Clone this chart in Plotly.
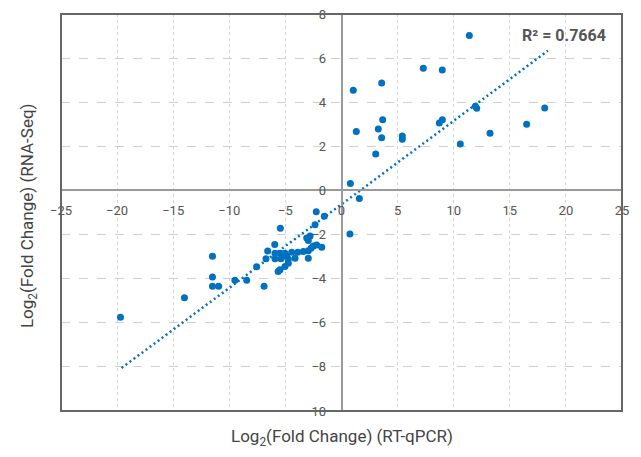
import plotly.graph_objects as go

# RT-qPCR log2 fold change (x) vs RNA-Seq log2 fold change (y)
qpcr = [-19.7, -14.0, -11.5, -11.5, -11.5, -10.95, -9.5, -8.45, -7.56, -6.9,
        -6.73, -6.58, -5.95, -5.93, -5.93, -5.45, -5.45, -5.4, -5.65, -5.48,
        -5.04, -4.74, -5.04, -4.88, -4.74, -4.44, -4.14, -3.9, -3.4, -2.96,
        -2.72, -2.51, -2.21, -1.76, -2.96, -3.1, -2.8, -2.96, -2.36, -2.25,
        -1.53, 0.75, 0.79, 1.59,
        11.39, 7.29, 8.98, 3.58, 1.05, 12.05, 11.93, 18.11, 3.67, 8.99,
        8.72, 3.28, 1.32, 16.5, 13.24, 5.42, 5.42, 3.58, 10.59, 3.05]
rnaseq = [-5.75, -4.87, -2.98, -3.93, -4.34, -4.34, -4.07, -4.07, -3.46, -4.34,
          -3.1, -2.74, -2.45, -2.85, -3.1, -1.71, -2.85, -3.1, -3.68, -3.6,
          -3.45, -3.3, -2.85, -3.0, -3.12, -2.8, -3.07, -2.8, -2.77, -2.73,
          -2.62, -2.52, -2.47, -2.58, -3.07, -2.16, -2.06, -2.27, -1.56, -0.97,
          -1.17, -1.97, 0.31, -0.37,
          7.02, 5.54, 5.46, 4.87, 4.54, 3.73, 3.82, 3.74, 3.2, 3.2,
          3.06, 2.79, 2.67, 3.0, 2.59, 2.47, 2.32, 2.39, 2.11, 1.65]

# linear trend line
trend_x = [-19.6, 18.4]
trend_slope = 0.3786
trend_intercept = -0.63
trend_y = [trend_slope * v + trend_intercept for v in trend_x]

r2_text = "R² = 0.7664"
x_ticks = list(range(-25, 26, 5))
y_ticks = list(range(-10, 9, 2))

blue = "#0070C0"
fig = go.Figure()
fig.add_trace(go.Scatter(x=trend_x, y=trend_y, mode="lines",
                         line=dict(color=blue, width=2.5, dash="2px,3px"),
                         hoverinfo="skip", showlegend=False))
fig.add_trace(go.Scatter(x=qpcr, y=rnaseq, mode="markers",
                         marker=dict(color=blue, size=7), showlegend=False))

tick_font = dict(family="Roboto, sans-serif", size=13, color="#555")
fig.update_layout(
    width=641, height=457,
    margin=dict(l=61, r=19, t=14, b=46, autoexpand=False),
    paper_bgcolor="white", plot_bgcolor="white",
    xaxis=dict(range=[-25, 25], tickvals=x_ticks, showgrid=True,
               gridcolor="#d4d4d4", griddash="dot", gridwidth=1,
               zeroline=False, showline=True, linecolor="#9a9a9a", linewidth=1.5,
               anchor="free", position=10 / 18, ticks="", tickfont=tick_font,
               ticklabelstandoff=8, automargin=False),
    yaxis=dict(range=[-10, 8], tickvals=y_ticks, showgrid=True,
               gridcolor="#cfcfcf", griddash="dash", gridwidth=1,
               zeroline=False, showline=True, linecolor="#9a9a9a", linewidth=1.5,
               anchor="free", position=0.5, ticks="", tickfont=tick_font,
               ticklabelstandoff=12, automargin=False),
    shapes=[dict(type="rect", xref="paper", yref="paper", x0=0, x1=1, y0=0, y1=1,
                 line=dict(color="#666", width=2), layer="above")],
    annotations=[
        dict(text="Log<sub>2</sub>(Fold Change) (RT-qPCR)", xref="paper", yref="paper",
             x=0.5, y=-0.068, xanchor="center", yanchor="middle", showarrow=False,
             font=dict(family="Roboto, sans-serif", size=17, color="#444")),
        dict(text="Log<sub>2</sub>(Fold Change) (RNA-Seq)", xref="paper", yref="paper",
             x=-0.0588, y=0.491, xanchor="center", yanchor="middle", textangle=-90,
             showarrow=False,
             font=dict(family="Roboto, sans-serif", size=17, color="#444")),
        dict(text="<b>" + r2_text + "</b>", xref="paper", yref="paper",
             x=0.975, y=0.945, xanchor="right", yanchor="middle", showarrow=False,
             font=dict(family="Roboto, sans-serif", size=16, color="#555")),
    ],
)
fig.write_html("out.html")
